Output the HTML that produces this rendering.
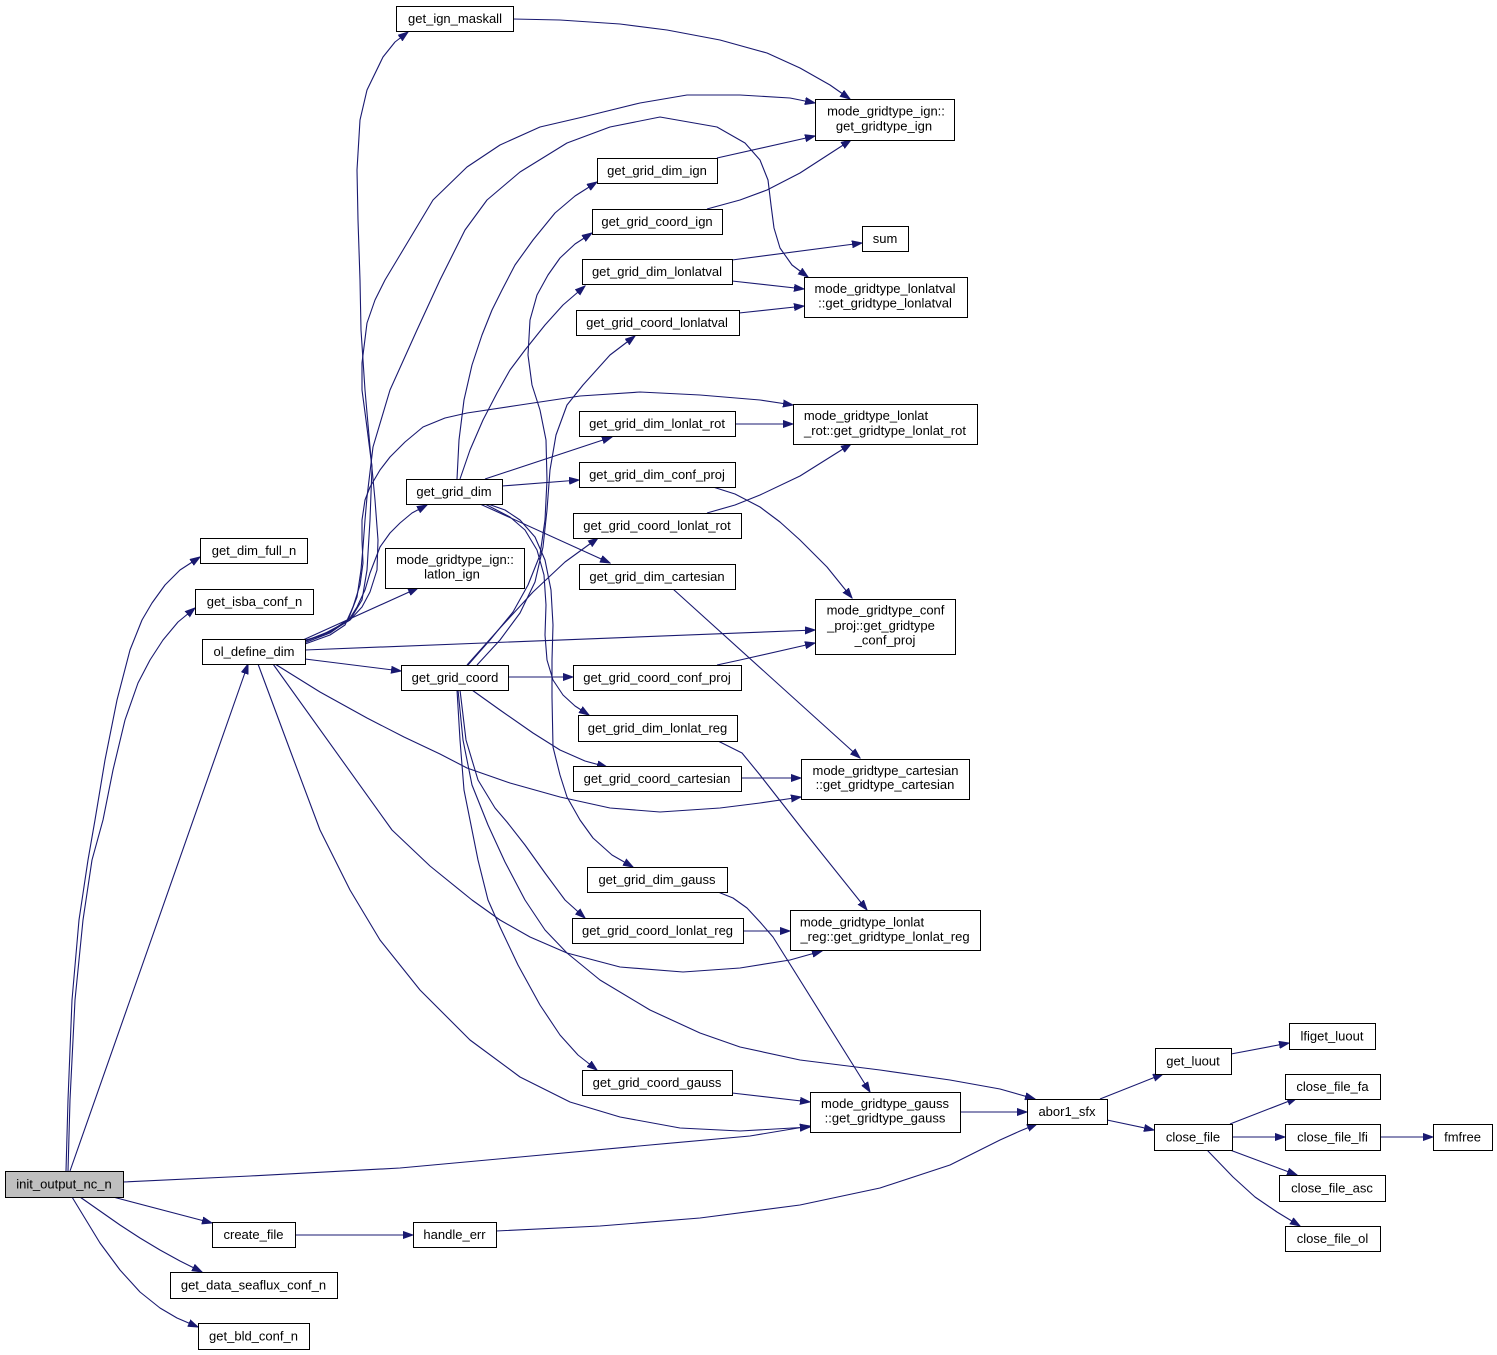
<!DOCTYPE html>
<html><head><meta charset="utf-8"><style>
html,body{margin:0;padding:0;background:#fff;}
svg{display:block;}
text{font-family:"Liberation Sans",Arial,sans-serif;font-size:13px;fill:#000;text-anchor:middle;}
.n{fill:#fff;stroke:#000;stroke-width:1;}
.e{fill:none;stroke:#191970;stroke-width:1.1;stroke-linejoin:round;marker-end:url(#a);}
</style></head><body>
<svg width="1497" height="1355" viewBox="0 0 1497 1355" xmlns="http://www.w3.org/2000/svg">
<defs><marker id="a" markerWidth="11" markerHeight="8" refX="10" refY="4" orient="auto" markerUnits="userSpaceOnUse"><path d="M0,0.5 L10,4 L0,7.5 z" fill="#191970" stroke="#191970" stroke-width="1"/></marker></defs>
<rect width="1497" height="1355" fill="#fff"/>
<g>
<!-- init edges -->
<polyline class="e" points="66,1171 68,1100 72,1000 79,920 88,860 95,820 105,760 117,700 130,650 142,620 152,603 165,585 180,570 200,557"/>
<polyline class="e" points="68,1171 70,1100 75,1000 83,920 92,860 103,820 113,770 125,720 138,683 150,660 163,640 178,622 195,608"/>
<polyline class="e" points="70,1171 248,664"/>
<polyline class="e" points="123,1182 250,1176 400,1168 520,1157 650,1145 750,1136 810,1126"/>
<polyline class="e" points="113,1197 212,1223"/>
<polyline class="e" points="80,1197 100,1211 120,1225 140,1238 160,1250 180,1261 202,1272"/>
<polyline class="e" points="72,1197 86,1220 100,1243 120,1270 140,1292 160,1308 177,1318 198,1327"/>
<polyline class="e" points="295,1235 413,1235"/>
<polyline class="e" points="496,1231 600,1226 700,1218 800,1205 880,1188 950,1165 1000,1140 1020,1131 1037,1124"/>
<!-- ol_define_dim edges -->
<polyline class="e" points="305,659 401,671"/>
<polyline class="e" points="305,650 815,630"/>
<polyline class="e" points="303,640 418,588"/>
<polyline class="e" points="305,641 333,630 350,618 357,607 365,590 370,573 380,547 390,533 400,523 412,513 427,505"/>
<polyline class="e" points="275,664 320,692 367,718 404,737 440,754 467,768 510,783 560,797 610,808 660,812 720,808 760,803 801,797"/>
<polyline class="e" points="273,664 392,830 430,866 472,900 500,920 530,937 567,953 620,967 683,972 740,968 790,960 822,951"/>
<polyline class="e" points="258,664 290,750 320,830 350,890 380,940 420,990 470,1040 520,1077 570,1102 620,1117 680,1128 740,1131 810,1127"/>
<polyline class="e" points="302,641 320,636 335,628 350,620 362,607 370,592 377,570 378,540 375,500 370,447 365,390 361,330 360,280 358,220 357,170 360,120 367,90 383,57 395,42 408,32"/>
<polyline class="e" points="303,642 330,632 350,620 362,600 367,570 370,520 372,467 366,420 362,390 362,363 367,323 375,300 385,280 400,255 433,200 467,167 500,145 540,127 583,117 640,103 687,95 740,95 790,98 815,103"/>
<polyline class="e" points="304,643 330,633 348,620 357,597 361,570 363,547 365,520 367,497 373,447 390,390 417,330 440,280 465,230 487,200 520,172 567,143 610,127 660,117 717,127 745,143 760,160 768,180 771,205 774,228 780,248 792,265 808,277"/>
<polyline class="e" points="305,644 330,635 345,625 353,607 360,585 363,563 362,540 362,520 365,500 370,487 380,470 390,457 405,442 423,427 445,418 467,413 520,405 580,396 640,392 700,395 760,400 793,405"/>
<!-- get_grid_dim edges -->
<polyline class="e" points="457,479 459,440 464,400 472,365 482,335 492,310 502,290 515,265 533,240 555,213 575,196 597,182"/>
<polyline class="e" points="460,479 470,450 483,420 497,393 510,370 525,350 545,325 563,305 585,286"/>
<polyline class="e" points="485,479 612,437"/>
<polyline class="e" points="502,486 579,480"/>
<polyline class="e" points="480,504 610,563"/>
<polyline class="e" points="485,504 510,517 525,530 537,550 544,575 546,605 545,635 547,660 553,680 563,695 575,706 589,715"/>
<polyline class="e" points="488,504 505,510 520,520 535,537 545,560 551,590 553,625 552,660 552,697 553,747 560,775 567,797 580,820 593,838 612,855 633,867"/>
<!-- get_grid_coord edges -->
<polyline class="e" points="468,665 490,640 513,612 528,585 540,555 545,520 547,480 546,440 540,410 532,385 528,355 530,320 537,295 548,275 560,258 575,244 592,233"/>
<polyline class="e" points="477,665 500,640 520,613 535,582 543,547 547,510 550,470 556,435 567,405 583,385 610,355 635,336"/>
<polyline class="e" points="467,665 500,628 533,592 565,562 598,538"/>
<polyline class="e" points="508,677 573,677"/>
<polyline class="e" points="472,690 500,710 533,733 560,750 585,761 607,767"/>
<polyline class="e" points="460,690 466,740 478,780 495,808 507,822 525,845 545,873 565,900 585,918"/>
<polyline class="e" points="457,690 460,740 464,790 470,820 478,860 488,900 500,927 518,965 540,1005 560,1035 578,1055 597,1070"/>
<polyline class="e" points="458,690 463,740 472,785 488,825 505,862 525,900 545,930 567,953 600,980 650,1010 700,1033 740,1047 800,1060 880,1070 950,1080 1000,1089 1035,1099"/>
<!-- second level -> mode_* -->
<polyline class="e" points="513,19 560,20 620,24 667,30 720,40 767,53 800,68 830,85 850,99"/>
<polyline class="e" points="717,158 815,136"/>
<polyline class="e" points="707,209 740,200 767,190 800,173 851,140"/>
<polyline class="e" points="732,260 862,243"/>
<polyline class="e" points="732,281 804,289"/>
<polyline class="e" points="739,313 804,306"/>
<polyline class="e" points="735,424 793,424"/>
<polyline class="e" points="707,513 735,505 760,495 800,476 851,444"/>
<polyline class="e" points="713,487 735,494 760,507 780,522 800,540 827,567 852,598"/>
<polyline class="e" points="717,665 740,660 815,643"/>
<polyline class="e" points="673,589 860,758"/>
<polyline class="e" points="741,778 801,778"/>
<polyline class="e" points="718,741 742,753 760,775 803,830 867,910"/>
<polyline class="e" points="718,892 733,898 747,908 760,922 773,937 870,1092"/>
<polyline class="e" points="743,931 790,931"/>
<polyline class="e" points="732,1093 810,1102"/>
<polyline class="e" points="960,1112 1027,1112"/>
<!-- abor1 / close_file -->
<polyline class="e" points="1100,1099 1163,1074"/>
<polyline class="e" points="1107,1120 1154,1130"/>
<polyline class="e" points="1231,1054 1289,1043"/>
<polyline class="e" points="1230,1124 1297,1098"/>
<polyline class="e" points="1232,1137 1285,1137"/>
<polyline class="e" points="1230,1150 1297,1175"/>
<polyline class="e" points="1207,1150 1233,1177 1255,1197 1277,1212 1300,1226"/>
<polyline class="e" points="1380,1137 1433,1137"/>
</g>
<g>
<rect class="n" x="5.5" y="1171.5" width="118" height="26" style="fill:#bfbfbf"/><text x="64" y="1188.5">init_output_nc_n</text>
<rect class="n" x="200.5" y="538.5" width="107" height="25"/><text x="254" y="555">get_dim_full_n</text>
<rect class="n" x="195.5" y="589.5" width="118" height="25"/><text x="254.5" y="606">get_isba_conf_n</text>
<rect class="n" x="202.5" y="639.5" width="103" height="25"/><text x="254" y="656">ol_define_dim</text>
<rect class="n" x="396.5" y="6.5" width="117" height="25"/><text x="455" y="23">get_ign_maskall</text>
<rect class="n" x="815.5" y="99.5" width="139" height="41"/><text x="886" y="115.5">mode_gridtype_ign::</text><text x="884" y="130.5">get_gridtype_ign</text>
<rect class="n" x="406.5" y="479.5" width="96" height="25"/><text x="454" y="496">get_grid_dim</text>
<rect class="n" x="385.5" y="548.5" width="139" height="40"/><text x="455" y="564">mode_gridtype_ign::</text><text x="452" y="578.5">latlon_ign</text>
<rect class="n" x="401.5" y="665.5" width="107" height="25"/><text x="455" y="682">get_grid_coord</text>
<rect class="n" x="597.5" y="158.5" width="120" height="25"/><text x="657" y="175">get_grid_dim_ign</text>
<rect class="n" x="592.5" y="209.5" width="130" height="25"/><text x="657" y="226">get_grid_coord_ign</text>
<rect class="n" x="862.5" y="226.5" width="46" height="25"/><text x="885" y="243">sum</text>
<rect class="n" x="582.5" y="259.5" width="150" height="25"/><text x="657" y="276">get_grid_dim_lonlatval</text>
<rect class="n" x="804.5" y="277.5" width="163" height="40"/><text x="885" y="293">mode_gridtype_lonlatval</text><text x="885" y="307.5">::get_gridtype_lonlatval</text>
<rect class="n" x="576.5" y="310.5" width="163" height="25"/><text x="657" y="327">get_grid_coord_lonlatval</text>
<rect class="n" x="579.5" y="411.5" width="156" height="25"/><text x="657" y="428">get_grid_dim_lonlat_rot</text>
<rect class="n" x="793.5" y="404.5" width="184" height="40"/><text x="866" y="420">mode_gridtype_lonlat</text><text x="885" y="435">_rot::get_gridtype_lonlat_rot</text>
<rect class="n" x="579.5" y="462.5" width="156" height="25"/><text x="657" y="479">get_grid_dim_conf_proj</text>
<rect class="n" x="573.5" y="513.5" width="168" height="25"/><text x="657" y="530">get_grid_coord_lonlat_rot</text>
<rect class="n" x="579.5" y="564.5" width="156" height="25"/><text x="657" y="581">get_grid_dim_cartesian</text>
<rect class="n" x="815.5" y="599.5" width="140" height="55"/><text x="885.5" y="614.5">mode_gridtype_conf</text><text x="881" y="630">_proj::get_gridtype</text><text x="885" y="644.5">_conf_proj</text>
<rect class="n" x="573.5" y="665.5" width="168" height="25"/><text x="657" y="682">get_grid_coord_conf_proj</text>
<rect class="n" x="578.5" y="715.5" width="159" height="26"/><text x="657.5" y="732.5">get_grid_dim_lonlat_reg</text>
<rect class="n" x="573.5" y="766.5" width="168" height="25"/><text x="657" y="783">get_grid_coord_cartesian</text>
<rect class="n" x="801.5" y="759.5" width="168" height="40"/><text x="885.5" y="775">mode_gridtype_cartesian</text><text x="885" y="789">::get_gridtype_cartesian</text>
<rect class="n" x="587.5" y="867.5" width="140" height="25"/><text x="657" y="884">get_grid_dim_gauss</text>
<rect class="n" x="572.5" y="918.5" width="171" height="25"/><text x="657.5" y="935">get_grid_coord_lonlat_reg</text>
<rect class="n" x="790.5" y="910.5" width="190" height="40"/><text x="862" y="926.5">mode_gridtype_lonlat</text><text x="885" y="941">_reg::get_gridtype_lonlat_reg</text>
<rect class="n" x="582.5" y="1070.5" width="150" height="25"/><text x="657" y="1087">get_grid_coord_gauss</text>
<rect class="n" x="810.5" y="1092.5" width="150" height="40"/><text x="885" y="1108">mode_gridtype_gauss</text><text x="885" y="1122.5">::get_gridtype_gauss</text>
<rect class="n" x="1027.5" y="1099.5" width="80" height="25"/><text x="1067" y="1116">abor1_sfx</text>
<rect class="n" x="1155.5" y="1048.5" width="76" height="26"/><text x="1193" y="1065.5">get_luout</text>
<rect class="n" x="1289.5" y="1023.5" width="86" height="26"/><text x="1332" y="1040.5">lfiget_luout</text>
<rect class="n" x="1154.5" y="1124.5" width="78" height="26"/><text x="1193" y="1141.5">close_file</text>
<rect class="n" x="1285.5" y="1074.5" width="95" height="25"/><text x="1332.5" y="1091">close_file_fa</text>
<rect class="n" x="1285.5" y="1124.5" width="95" height="26"/><text x="1332.5" y="1141.5">close_file_lfi</text>
<rect class="n" x="1433.5" y="1124.5" width="59" height="26"/><text x="1462.5" y="1141.5">fmfree</text>
<rect class="n" x="1279.5" y="1175.5" width="106" height="26"/><text x="1332" y="1192.5">close_file_asc</text>
<rect class="n" x="1285.5" y="1226.5" width="95" height="25"/><text x="1332.5" y="1243">close_file_ol</text>
<rect class="n" x="212.5" y="1222.5" width="83" height="25"/><text x="253.5" y="1239">create_file</text>
<rect class="n" x="413.5" y="1222.5" width="83" height="25"/><text x="454.5" y="1239">handle_err</text>
<rect class="n" x="170.5" y="1272.5" width="167" height="26"/><text x="253.5" y="1289.5">get_data_seaflux_conf_n</text>
<rect class="n" x="198.5" y="1323.5" width="111" height="26"/><text x="253.5" y="1340.5">get_bld_conf_n</text>
</g>
</svg>
</body></html>
